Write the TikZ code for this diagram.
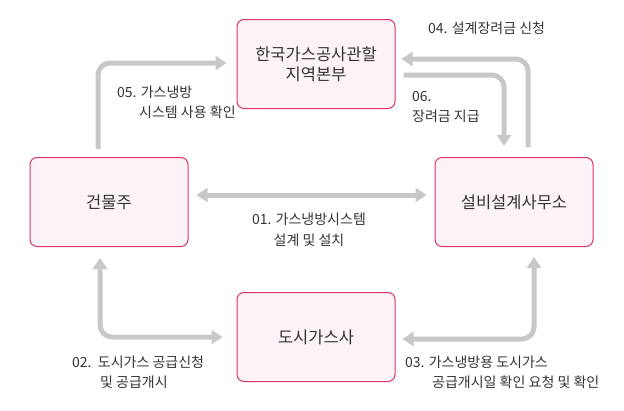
\documentclass[tikz,border=0pt]{standalone}
\usepackage{fontspec}
\setmainfont{Noto Sans CJK KR}
\usetikzlibrary{arrows.meta}
\definecolor{boxline}{HTML}{E0336A}
\definecolor{boxfill}{HTML}{FCF3F8}
\definecolor{arrgray}{HTML}{C8C8C8}
\definecolor{txt}{HTML}{333333}
\tikzset{
  box/.style={draw=boxline, fill=boxfill, line width=1pt, rounded corners=7pt,
    minimum width=158pt, minimum height=89pt, inner sep=0pt, align=center,
    text=txt, font=\fontsize{16.5}{20}\selectfont},
  arr/.style={draw=arrgray, line width=5pt, rounded corners=12pt,
    -{Triangle[width=14pt,length=11pt]}},
  darr/.style={draw=arrgray, line width=5pt, rounded corners=12pt,
    {Triangle[width=14pt,length=11pt]}-{Triangle[width=14pt,length=11pt]}},
  lbl/.style={text=txt, font=\fontsize{14}{20}\selectfont, inner sep=0pt}
}
\begin{document}
\begin{tikzpicture}[x=1pt,y=-1pt]
\useasboundingbox (0,0) rectangle (624,410);
\node[box] (T) at (316,64) {한국가스공사관할\\지역본부};
\node[box] (L) at (109,202) {건물주};
\node[box] (R) at (514,202) {설비설계사무소};
\node[box] (B) at (316,337) {도시가스사};

\draw[darr] ([xshift=8pt,yshift=7pt]L.east) -- ([xshift=-8pt,yshift=7pt]R.west);
\draw[arr] ([xshift=-11pt,yshift=8pt]L.north) |- ([xshift=-10pt,yshift=1pt]T.west);
\draw[arr] ([xshift=14pt,yshift=10pt]R.north) |- ([xshift=6pt,yshift=5pt]T.east);
\draw[arr] ([xshift=8pt,yshift=-11pt]T.east) -| ([xshift=-10pt,yshift=11pt]R.north);
\draw[darr] ([xshift=-14pt]B.west) -| ([xshift=-9pt,yshift=-11pt]L.south);
\draw[darr] ([xshift=7pt,yshift=-2pt]B.east) -| ([xshift=20pt,yshift=-10pt]R.south);

\node[lbl, anchor=base west] (l04) at (428,33) {04. 설계장려금 신청};
\node[lbl, anchor=base west] (l06a) at (412,101) {06.};
\node[lbl, anchor=base west] (l06b) at (412,121) {장려금 지급};
\node[lbl, anchor=base west] (l05a) at (117,97) {05. 가스냉방};
\node[lbl, anchor=base west] (l05b) at (139,117) {시스템 사용 확인};
\node[lbl, anchor=base] (l01a) at (309,224) {01. 가스냉방시스템};
\node[lbl, anchor=base] (l01b) at (309,245) {설계 및 설치};
\node[lbl, anchor=base west] (l02a) at (72,367) {02.\ \ 도시가스 공급신청};
\node[lbl, anchor=base west] (l02b) at (100,387) {및 공급개시};
\node[lbl, anchor=base west] (l03a) at (405,367) {03. 가스냉방용 도시가스};
\node[lbl, anchor=base west] (l03b) at (432,387) {공급개시일 확인 요청 및 확인};
\end{tikzpicture}
\end{document}
